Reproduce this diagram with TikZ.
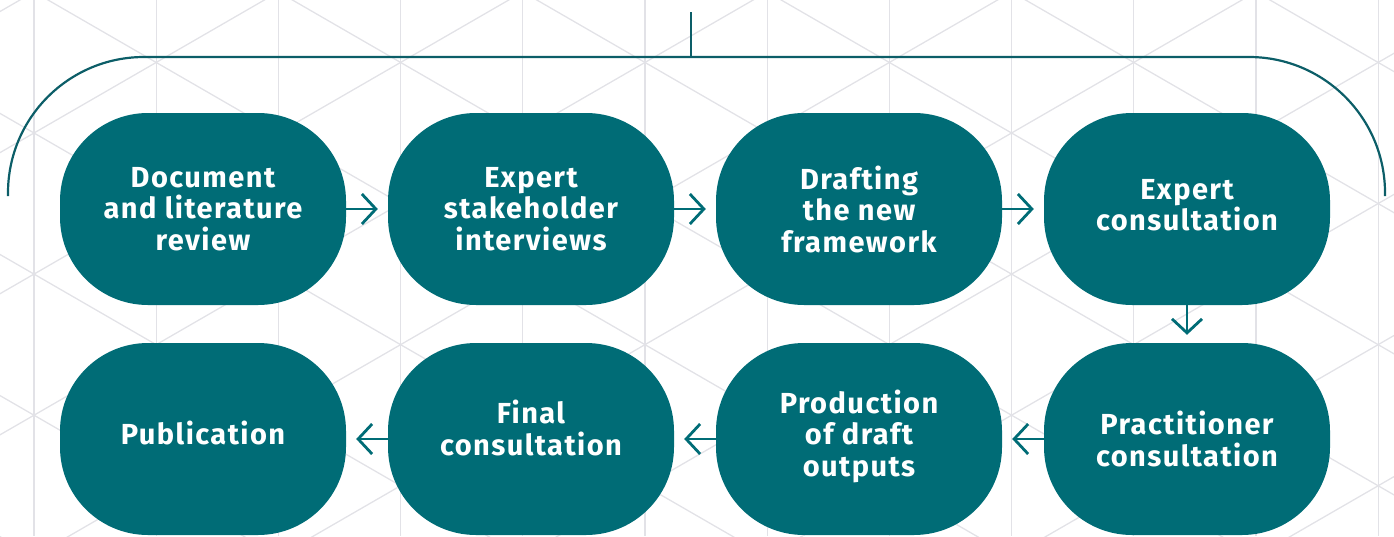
\documentclass[tikz,border=0pt]{standalone}
\usepackage{fontspec}
\setmainfont{Fira Sans}[LetterSpace=5]
\usetikzlibrary{arrows.meta}
\definecolor{petrol}{RGB}{0,108,118}
\definecolor{petroldark}{RGB}{12,94,104}
\definecolor{gridgrey}{RGB}{226,226,231}
\begin{document}
\begin{tikzpicture}[
  x=1pt, y=-1pt,
  stagetext/.style={align=center, text=white, font=\fontsize{29}{31.5}\selectfont\bfseries},
  stage/.style={stagetext, fill=petrol, rounded corners=88pt, minimum width=286pt, minimum height=192pt, inner sep=0pt},
  arrow/.style={-{Straight Barb[length=14pt,width=30pt]}, line width=2.8pt, petrol, shorten >=10pt}
]
\useasboundingbox (0,0) rectangle (1394,536);
% triangle grid behind everything
\begin{scope}
\clip (0,0) rectangle (1394,536);
\foreach \k in {0,...,11}
  \draw[gridgrey, line width=1.3pt] ({34+122.2*\k},0) -- ({34+122.2*\k},536);
\foreach \m in {-7,...,10} {
  \draw[gridgrey, line width=1.3pt] (34,{133+141.1*\m}) -- ++(1400,-808.3);
  \draw[gridgrey, line width=1.3pt] (34,{133+141.1*\m}) -- ++(1400,808.3);
  \draw[gridgrey, line width=1.3pt] (34,{133+141.1*\m}) -- ++(-100,-57.7);
  \draw[gridgrey, line width=1.3pt] (34,{133+141.1*\m}) -- ++(-100,57.7);
}
\end{scope}
% bracket over the whole process
\coordinate (top) at (691,12);
\coordinate (join) at (691,57);
\coordinate (left) at (8,196);
\coordinate (right) at (1385,196);
\draw[petroldark, line width=2.2pt, rounded corners=136pt] (left) |- (join) -| (right);
\draw[petroldark, line width=2.2pt] (join) -- (top);
% stages
\node[stage] (doc) at (203,209) {Document\\and literature\\review};
\node[stage] (interviews) at (531,209) {Expert\\stakeholder\\interviews};
\node[stage] (drafting) at (859,209) {Drafting\\the new\\framework};
\node[stage, label={[stagetext, yshift=4pt]center:Expert\\consultation}] (expert) at (1187,209) {};
\node[stage] (practitioner) at (1187,439) {Practitioner\\consultation};
\node[stage, label={[stagetext, yshift=3pt]center:Production\\of draft\\outputs}] (production) at (859,439) {};
\node[stage, label={[stagetext, yshift=11pt]center:Final\\consultation}] (final) at (531,439) {};
\node[stage, label={[stagetext, yshift=6pt]center:Publication}] (publication) at (203,439) {};
% flow
\draw[arrow] (doc) -- (interviews);
\draw[arrow] (interviews) -- (drafting);
\draw[arrow] (drafting) -- (expert);
\draw[arrow, shorten >=8pt] (expert) -- (practitioner);
\draw[arrow] (practitioner) -- (production);
\draw[arrow] (production) -- (final);
\draw[arrow] (final) -- (publication);
\end{tikzpicture}
\end{document}
